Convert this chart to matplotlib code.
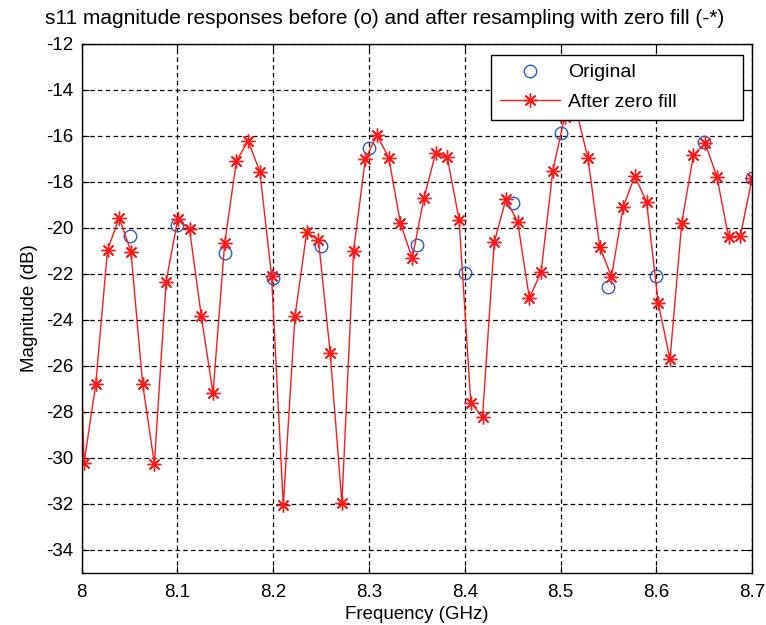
# s11 magnitude: original samples vs. zero-fill resampled response
import numpy as np
import matplotlib
matplotlib.use('Agg')
from matplotlib import pyplot as plt

# Original samples (GHz, dB)
freq_orig = [8.05, 8.10, 8.15, 8.20, 8.25, 8.30, 8.35, 8.40, 8.45, 8.50,
             8.55, 8.60, 8.65, 8.70]
mag_orig = [-20.36, -19.89, -21.10, -22.21, -20.80, -16.56, -20.76, -21.97,
            -18.95, -15.90, -22.57, -22.11, -16.27, -17.86]

# Zero-fill resampled grid (first sample lies just left of the axis)
freq_zf = np.linspace(7.9902, 8.7, 59)
mag_zf = [-13.0,
          -30.23, -26.80, -20.98, -19.57, -21.05, -26.80, -30.28, -22.36,
          -19.62, -20.08, -23.83, -27.21, -20.69, -17.10, -16.24, -17.57,
          -22.11, -32.07, -23.85, -20.20, -20.54, -25.44, -31.97, -21.00,
          -17.03, -15.99, -16.97, -19.82, -21.34, -18.73, -16.77, -16.95,
          -19.67, -27.62, -28.23, -20.64, -18.76, -19.77, -23.08, -21.92,
          -17.53, -15.20, -14.90, -16.99, -20.83, -22.14, -19.12, -17.76,
          -18.90, -23.30, -25.73, -19.79, -16.85, -16.34, -17.79, -20.43,
          -20.37, -17.86]

xticks = [8.0, 8.1, 8.2, 8.3, 8.4, 8.5, 8.6, 8.7]
xtick_labels = ['8', '8.1', '8.2', '8.3', '8.4', '8.5', '8.6', '8.7']
yticks = [-34, -32, -30, -28, -26, -24, -22, -20, -18, -16, -14, -12]

plt.rcParams['font.family'] = ['Liberation Sans', 'DejaVu Sans']
plt.rcParams['font.size'] = 13
plt.rcParams['axes.unicode_minus'] = False

fig = plt.figure(figsize=(7.66, 6.25), dpi=100)
ax = fig.add_axes([0.1067, 0.084, 0.8751, 0.8464])

ax.plot(freq_orig, mag_orig, linestyle='none', marker='o', markersize=9,
        markerfacecolor='none', markeredgecolor='#2a5bd0', markeredgewidth=1.0,
        label='Original')
ax.plot(freq_zf, mag_zf, color='#ff1a1a', linewidth=1.0, marker=(8, 2, 0),
        markersize=10, markeredgewidth=1.0, label='After zero fill')

ax.set_xlim(8.0, 8.7)
ax.set_ylim(-35, -12)
ax.set_xticks(xticks)
ax.set_xticklabels(xtick_labels)
ax.set_yticks(yticks)
ax.tick_params(direction='in', length=5, width=0.8, top=True, right=True,
               labelsize=13.5)
ax.tick_params(axis='x', pad=8)
ax.tick_params(axis='y', pad=6)
for sp in ax.spines.values():
    sp.set_linewidth(1.0)

ax.grid(True, color='black', linewidth=0.9, linestyle=(0, (3.6, 2.6)))
ax.set_axisbelow(True)

ax.set_xlabel('Frequency (GHz)', labelpad=4, fontsize=13.5)
ax.set_ylabel('Magnitude (dB)', labelpad=6, fontsize=13.5)
fig.text(0.502, 0.971, 's11 magnitude responses before (o) and after resampling with zero fill (-*)',
         ha='center', va='center', fontsize=15)

# legend stretched to the box width seen in the reference
leg = ax.legend(loc='upper left', bbox_to_anchor=(0.6106, 0.0, 0.376, 0.978),
                mode='expand', borderaxespad=0,
                fancybox=False, framealpha=1, edgecolor='black', numpoints=1,
                handlelength=3.1, handletextpad=0.4, borderpad=0.45,
                labelspacing=0.6, fontsize=14)
leg.get_frame().set_linewidth(1.0)

fig.savefig('out.png', dpi=100)
